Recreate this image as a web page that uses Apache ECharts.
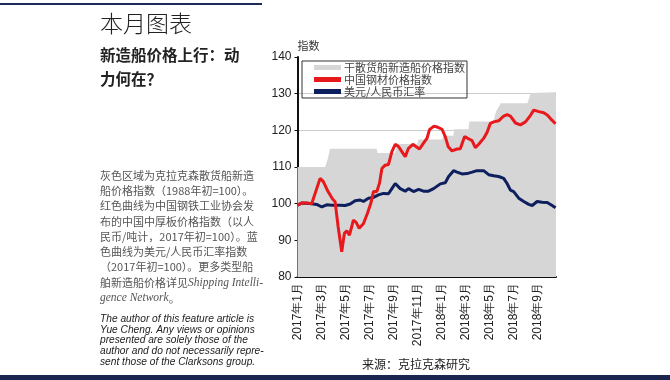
<!DOCTYPE html>
<html><head><meta charset="utf-8">
<script src="https://cdn.jsdelivr.net/npm/echarts@6/dist/echarts.min.js"></script>
<style>html,body{margin:0;padding:0;background:#fff}#c{width:670px;height:380px}</style>
</head><body><div id="c"></div>
<script>
// x values are months since 2017年1月
const tickLabels = ['2017年1月','2017年3月','2017年5月','2017年7月','2017年9月','2017年11月','2018年1月','2018年3月','2018年5月','2018年7月','2018年9月'];
const seriesNames = ['干散货船新造船价格指数','中国钢材价格指数','美元/人民币汇率'];

const bulkMonths = [0,2.29,2.5,2.7,6.6,6.65,8.1,8.3,9.96,10.05,12.04,12.1,12.96,13.05,14.21,14.3,16.29,16.5,16.9,19.13,19.4,21.5];
const bulkIndex  = [110,110,112,115,115,113.8,113.8,116.3,116.3,117.5,117.5,118.5,118.5,120.3,120.3,122.4,122.4,125,127.4,127.4,130.2,130.4];

const steelMonths = [0,0.38,0.79,1.18,1.88,2.15,2.54,2.93,3.13,3.38,3.68,3.9,4.1,4.32,4.65,4.88,5.13,5.48,5.82,6.1,6.32,6.6,6.82,7.02,7.29,7.57,7.85,8.13,8.4,8.68,8.96,9.23,9.6,9.88,10.15,10.48,10.77,10.98,11.32,11.63,12.02,12.29,12.54,12.85,13.27,13.54,13.9,14.23,14.52,14.79,15.07,15.48,15.77,16.04,16.32,16.73,17.15,17.43,17.71,18.13,18.54,18.96,19.38,19.65,20.07,20.48,20.77,21.04,21.46];
const steelIndex  = [99.6,100.2,100.2,100,106.9,106,103.3,101.2,100.5,93.7,86.9,91.9,92.6,91.4,95.5,94.9,93.3,94.5,97.4,100.1,103.3,103.3,105.6,109.6,110.5,110.7,114.2,116.2,115.6,114.2,112.8,115.1,116.2,115.5,114.9,116.5,117.8,120.2,121.1,120.9,120.3,118.3,115.5,114.4,114.9,115,118.3,117.7,117.2,115.3,116.2,117.8,119.5,121.9,122.3,122.6,123.9,124.3,123.9,122,121.5,122.3,124.1,125.5,125.1,124.8,124.2,123.2,121.8];

const fxMonths = [0,0.38,0.79,1.18,1.6,2.02,2.43,2.88,3.54,3.96,4.38,4.79,5.21,5.48,5.9,6.32,6.73,7.15,7.57,7.85,8.13,8.54,8.96,9.23,9.65,10.07,10.48,10.9,11.32,11.88,12.29,12.57,12.98,13.27,13.68,14.1,14.52,14.93,15.48,15.9,16.32,16.73,17.15,17.43,17.71,17.98,18.4,18.82,19.23,19.52,19.93,20.35,20.77,21.18,21.46];
const fxIndex  = [99.6,100.2,100.1,100,99.8,99.1,99.7,99.6,99.6,99.5,99.9,100.8,101,100.6,101.5,101.7,102.4,102.8,102.7,104.1,105.5,104.1,103.4,104.1,103.3,103.9,103.4,103.4,104.1,105.4,105.7,107.4,109,108.6,108.1,108.2,108.6,109,109,107.9,107.6,107.4,106.9,105.5,103.7,103.3,101.5,100.6,99.8,99.5,100.6,100.4,100.3,99.5,98.9];

const pair = (xs, ys) => xs.map((x, i) => [x, ys[i]]);

const bodyLines = [
  '灰色区域为克拉克森散货船新造',
  '船价格指数（1988年初=100）。',
  '红色曲线为中国钢铁工业协会发',
  '布的中国中厚板价格指数（以人',
  '民币/吨计，2017年初=100）。蓝',
  '色曲线为美元/人民币汇率指数',
  '（2017年初=100）。更多类型船',
  '舶新造船价格详见{i|Shipping Intelli-}',
  '{i|gence Network}。'
];
const noteLines = [
  'The author of this feature article is',
  'Yue Cheng. Any views or opinions',
  'presented are solely those of the',
  'author and do not necessarily repre-',
  'sent those of the Clarksons group.'
];

const CJK = '"Noto Sans CJK SC", sans-serif';
const graphics = [
  {type:'rect', shape:{x:0,y:3,width:262,height:2}, style:{fill:'#1c2a5c'}},
  {type:'rect', shape:{x:0,y:375,width:670,height:5}, style:{fill:'#1b2650'}},
  {type:'text', left:100, top:12, style:{text:'本月图表', font:'300 23px ' + CJK, fill:'#222'}},
  {type:'text', left:100, top:47, style:{text:'新造船价格上行：动', font:'bold 15.5px ' + CJK, fill:'#222'}},
  {type:'text', left:100, top:71, style:{text:'力何在？', font:'bold 15.5px ' + CJK, fill:'#222'}},
  {type:'text', left:362, top:358, style:{text:'来源：克拉克森研究', font:'12px ' + CJK, fill:'#222'}}
];
bodyLines.forEach((t, i) => graphics.push({type:'text', left:100, top:170 + i*15.3,
  style:{text:t, font:'11px ' + CJK, fill:'#555',
    rich:{i:{fontStyle:'italic', fontFamily:'"Liberation Serif", serif', fontSize:11.5, fill:'#555'}}}}));
noteLines.forEach((t, i) => graphics.push({type:'text', left:100, top:314 + i*10.8,
  style:{text:t, font:'italic 10.2px "Liberation Sans", Arial, sans-serif', fill:'#222'}}));

const chart = echarts.init(document.getElementById('c'), null, {renderer:'canvas'});
chart.setOption({
  animation:false,
  grid:{left:297.5, right:114, top:57, bottom:103},
  legend:{
    orient:'vertical', left:302, top:61, width:158,
    borderColor:'#333', borderWidth:1, padding:[1,2,1,12], itemGap:1,
    itemWidth:27, itemHeight:5,
    textStyle:{fontFamily:CJK, fontSize:11, color:'#444', padding:[0,0,0,-2]},
    data:[
      {name:seriesNames[0], icon:'rect', itemStyle:{color:'#d6d6d6'}},
      {name:seriesNames[1], icon:'rect', itemStyle:{color:'#e8191c'}},
      {name:seriesNames[2], icon:'rect', itemStyle:{color:'#0e1f5e'}}
    ]
  },
  xAxis:{
    type:'value', min:0, max:21.5, interval:2,
    axisLine:{show:true, lineStyle:{color:'#111', width:2}},
    axisTick:{show:false}, splitLine:{show:false},
    axisLabel:{rotate:90, margin:6, showMaxLabel:false, color:'#222',
      fontFamily:'"Liberation Sans", Arial, sans-serif', fontSize:12,
      formatter:v => tickLabels[Math.round(v/2)] || ''}
  },
  yAxis:{
    type:'value', min:80, max:140, interval:10,
    name:'指数', nameLocation:'end', nameGap:6,
    nameTextStyle:{fontFamily:CJK, fontSize:11, color:'#333', align:'left', padding:[0,0,0,0]},
    axisLine:{show:true, lineStyle:{color:'#111', width:2}},
    axisTick:{show:true, length:3, lineStyle:{color:'#111'}},
    axisLabel:{color:'#222', fontFamily:'"Liberation Sans", Arial, sans-serif', fontSize:12, margin:6},
    splitLine:{show:true, lineStyle:{color:['#ccc','#ccc','#ccc','#ccc','#ccc','#ccc','transparent'], width:1}}
  },
  series:[
    {name:seriesNames[0], type:'line', data:pair(bulkMonths, bulkIndex), symbol:'none',
      lineStyle:{width:0, color:'#d6d6d6'}, itemStyle:{color:'#d6d6d6'},
      areaStyle:{color:'#d6d6d6', opacity:1}, z:1},
    {name:seriesNames[1], type:'line', data:pair(steelMonths, steelIndex), symbol:'none',
      lineStyle:{width:3, color:'#e8191c'}, itemStyle:{color:'#e8191c'}, z:3},
    {name:seriesNames[2], type:'line', data:pair(fxMonths, fxIndex), symbol:'none',
      lineStyle:{width:3, color:'#0e1f5e'}, itemStyle:{color:'#0e1f5e'}, z:2}
  ],
  graphic:graphics
});
</script></body></html>
